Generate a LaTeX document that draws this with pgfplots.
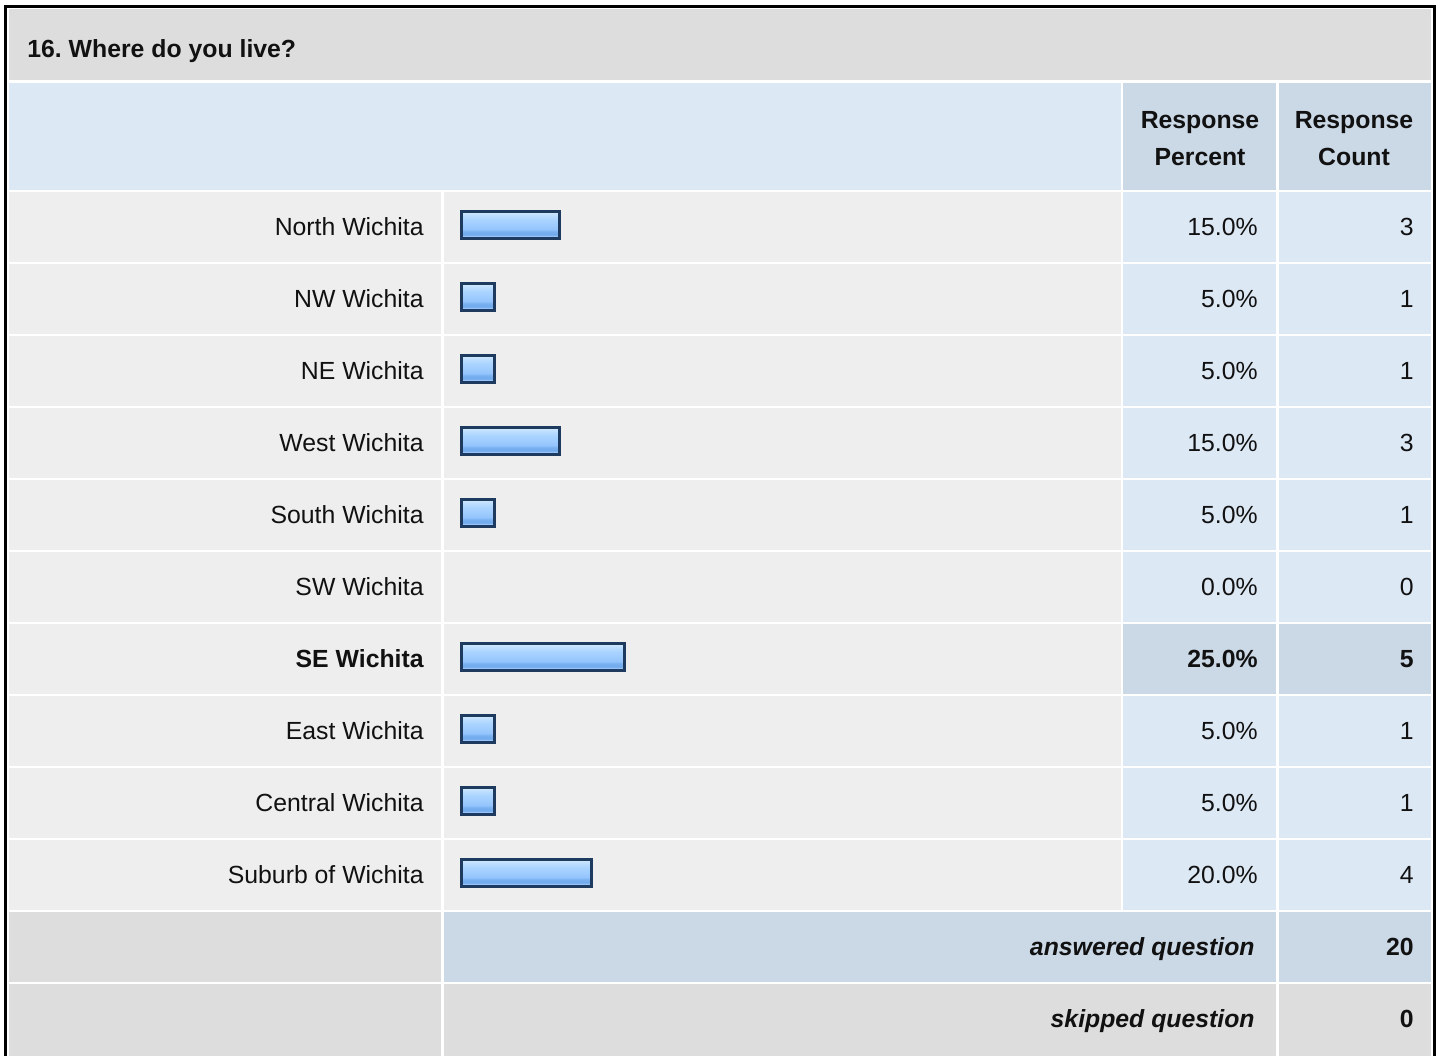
\documentclass[border=0pt]{standalone}
\usepackage{pgfplots}
\usepackage{pgfplotstable}
\pgfplotsset{compat=1.18}
\usepackage{fontspec}
\setmainfont{Liberation Sans}

\definecolor{titlegray}{HTML}{DDDDDD}
\definecolor{rowgray}{HTML}{EEEEEE}
\definecolor{cellblue}{HTML}{DDE8F5}
\definecolor{headblue}{HTML}{CBD8E6}
\definecolor{barline}{HTML}{1F3A5F}
\definecolor{txt}{HTML}{111111}

% bar gradient, top (75bp) to bottom (25bp)
\pgfdeclareverticalshading{barshade}{100bp}{%
  color(0bp)=(rgb,255:red,166;green,208;blue,255);
  color(25bp)=(rgb,255:red,166;green,208;blue,255);
  color(29bp)=(rgb,255:red,156;green,202;blue,255);
  color(32bp)=(rgb,255:red,114;green,169;blue,236);
  color(38bp)=(rgb,255:red,120;green,176;blue,240);
  color(42bp)=(rgb,255:red,148;green,196;blue,252);
  color(50bp)=(rgb,255:red,158;green,204;blue,255);
  color(60bp)=(rgb,255:red,170;green,212;blue,255);
  color(68bp)=(rgb,255:red,188;green,222;blue,255);
  color(75bp)=(rgb,255:red,212;green,234;blue,255);
  color(100bp)=(rgb,255:red,212;green,234;blue,255)}

% row index, response percent, response count
\pgfplotstableread{
idx pct count
0 15 3
1 5  1
2 5  1
3 15 3
4 5  1
5 0  0
6 25 5
7 5  1
8 5  1
9 20 4
}\datatable

\begin{document}
\frenchspacing
\begin{tikzpicture}[x=0.5pt,y=-0.5pt,font=\fontsize{12.4}{14}\selectfont,text=txt,
  every node/.style={inner sep=0pt}]
\path[use as bounding box] (0,0) rectangle (1440,1055);
\begin{scope}
  \clip (0,0) rectangle (1440,1055);
  \fill[white] (0,0) rectangle (1440,1055);
  \fill[titlegray] (9,9) rectangle (1431,80);
  \fill[cellblue] (9,83) rectangle (1121,190);
  \fill[headblue] (1123,83) rectangle (1276,190);
  \fill[headblue] (1279,83) rectangle (1431,190);
  \foreach \i in {0,...,9}{
    \pgfmathsetmacro\ya{192+72*\i}
    \pgfmathsetmacro\yb{262+72*\i}
    \fill[rowgray] (9,\ya) rectangle (441,\yb);
    \fill[rowgray] (444,\ya) rectangle (1121,\yb);
    \fill[cellblue] (1123,\ya) rectangle (1276,\yb);
    \fill[cellblue] (1279,\ya) rectangle (1431,\yb);
  }
  % most chosen answer
  \fill[headblue] (1123,624) rectangle (1276,694);
  \fill[headblue] (1279,624) rectangle (1431,694);
  % answered / skipped
  \fill[titlegray] (9,912) rectangle (441,982);
  \fill[headblue] (444,912) rectangle (1276,982);
  \fill[headblue] (1279,912) rectangle (1431,982);
  \fill[titlegray] (9,984) rectangle (441,1070);
  \fill[titlegray] (444,984) rectangle (1276,1070);
  \fill[titlegray] (1279,984) rectangle (1431,1070);
  \draw[line width=1.5pt] (5.5,6.5) rectangle (1434,1090);
\end{scope}

\node[anchor=base west] at (27,57) {\bfseries 16. Where do you live?};
\node[anchor=base] at (1200,128) {\bfseries Response};
\node[anchor=base] at (1200,165) {\bfseries Percent};
\node[anchor=base] at (1354,128) {\bfseries Response};
\node[anchor=base] at (1354,165) {\bfseries Count};

\foreach \i/\name/\p/\c in {0/North Wichita/15.0/3, 1/NW Wichita/5.0/1,
  2/NE Wichita/5.0/1, 3/West Wichita/15.0/3, 4/South Wichita/5.0/1,
  5/SW Wichita/0.0/0, 7/East Wichita/5.0/1, 8/Central Wichita/5.0/1,
  9/Suburb of Wichita/20.0/4}{
  \node[anchor=base east] at (424,235+72*\i) {\name};
  \node[anchor=base east] at (1258,235+72*\i) {\p\%};
  \node[anchor=base east] at (1414,235+72*\i) {\c};
}
\node[anchor=base east] at (424,667) {\bfseries SE Wichita};
\node[anchor=base east] at (1258,667) {\bfseries 25.0\%};
\node[anchor=base east] at (1414,667) {\bfseries 5};

\node[anchor=base east] at (1255,955) {\bfseries\itshape answered question};
\node[anchor=base east] at (1414,955) {\bfseries 20};
\node[anchor=base east] at (1255,1027) {\bfseries\itshape skipped question};
\node[anchor=base east] at (1414,1027) {\bfseries 0};

\begin{axis}[
  at={(230.75pt,-94.5pt)}, anchor=north west,
  width=325pt, height=360pt, scale only axis,
  xmin=0, xmax=100, ymin=-0.5, ymax=9.5, y dir=reverse,
  hide axis, clip=false,
  xbar, bar width=13.5pt, bar shift=0pt,
]
% one plot per row, so that every bar gets its own gradient
\pgfplotsinvokeforeach{0,...,9}{
  \addplot[draw=barline, line width=1.5pt, shading=barshade,
    x filter/.expression={x==0 ? nan : x},
    y filter/.expression={y==#1 ? y : nan}] table[x=pct, y=idx] \datatable;
}
\end{axis}
\end{tikzpicture}
\end{document}
